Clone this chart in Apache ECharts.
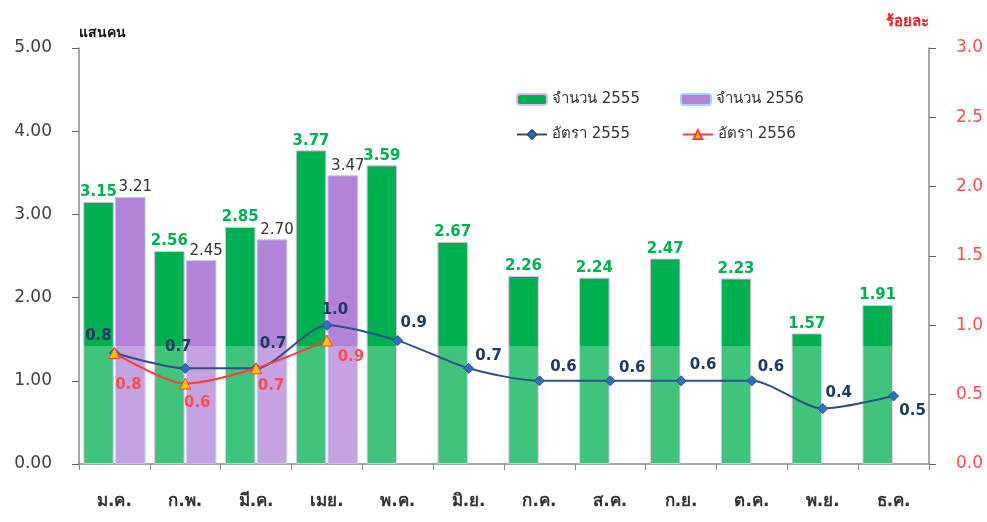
<!DOCTYPE html>
<html><head><meta charset="utf-8">
<script src="https://cdn.jsdelivr.net/npm/echarts@6/dist/echarts.min.js"></script>
<style>html,body{margin:0;padding:0;background:#fff}#c{width:987px;height:522px}</style>
</head><body><div id="c"></div>
<script>
const months = ['ม.ค.','ก.พ.','มี.ค.','เมย.','พ.ค.','มิ.ย.','ก.ค.','ส.ค.','ก.ย.','ต.ค.','พ.ย.','ธ.ค.'];
const count2555 = [3.15, 2.56, 2.85, 3.77, 3.59, 2.67, 2.26, 2.24, 2.47, 2.23, 1.57, 1.91];
const count2556 = [3.21, 2.45, 2.70, 3.47, null, null, null, null, null, null, null, null];
const rate2555 = [0.80, 0.69, 0.69, 1.00, 0.89, 0.69, 0.60, 0.60, 0.60, 0.60, 0.40, 0.49];
const rate2556 = [0.80, 0.58, 0.69, 0.89, null, null, null, null, null, null, null, null];
const leftTicks = [0, 1, 2, 3, 4, 5];
const rightTicks = [0, 0.5, 1, 1.5, 2, 2.5, 3];

const FONT = 'Tahoma, "DejaVu Sans", "Noto Sans", sans-serif';
const blueOffsets = [[-16,1],[-7,-3],[17,-6],[8,3],[16,1],[20,6],[24,4],[22,5],[22,2],[19,4],[16,3],[19,33]];
const redOffsets = [[14,14],[12,1],[15,-1],[24,-2]];

const chart = echarts.init(document.getElementById('c'));
chart.setOption({
  animation: false,
  textStyle: {fontFamily: FONT},
  grid: {left: 79, right: 58, top: 48, bottom: 58, containLabel: false},
  legend: [
    {left: 511, top: 87, itemWidth: 30, itemHeight: 11, itemGap: 40,
     textStyle: {fontSize: 15, color: '#333', fontFamily: FONT},
     data: ['จำนวน 2555', 'จำนวน 2556']},
    {left: 511, top: 122, itemWidth: 30, itemHeight: 11, itemGap: 52,
     textStyle: {fontSize: 15, color: '#333', fontFamily: FONT},
     data: ['อัตรา 2555', 'อัตรา 2556']}
  ],
  xAxis: {
    type: 'category', data: months,
    axisLine: {lineStyle: {color: '#8a8a8a', width: 1.5}},
    axisTick: {show: true, length: 6, lineStyle: {color: '#8a8a8a'}},
    axisLabel: {margin: 29, fontSize: 17, color: '#333', fontWeight: 'bold', fontFamily: FONT}
  },
  yAxis: [
    {type: 'value', min: leftTicks[0], max: leftTicks[leftTicks.length-1], interval: 1,
     name: 'แสนคน', nameLocation: 'end', nameGap: 8,
     nameTextStyle: {fontSize: 14, fontWeight: 'bold', color: '#111', align: 'left', fontFamily: FONT},
     axisLine: {show: true, lineStyle: {color: '#8a8a8a', width: 1.5}},
     axisTick: {show: true, length: 7, lineStyle: {color: '#666'}},
     splitLine: {show: false},
     axisLabel: {formatter: v => v.toFixed(2), fontSize: 17, color: '#404040', margin: 27, fontFamily: FONT}},
    {type: 'value', min: rightTicks[0], max: rightTicks[rightTicks.length-1], interval: 0.5,
     name: 'ร้อยละ', nameLocation: 'end', nameGap: 18,
     nameTextStyle: {fontSize: 15, fontWeight: 'bold', color: '#ff1a1a', align: 'right', padding: [0, 0, 0, 0], fontFamily: FONT},
     axisLine: {show: true, lineStyle: {color: '#8a8a8a', width: 1.5}},
     axisTick: {show: true, length: 7, lineStyle: {color: '#666'}},
     splitLine: {show: false},
     axisLabel: {formatter: v => v.toFixed(1), fontSize: 17, color: '#ff4d4d', margin: 27, fontFamily: FONT}}
  ],
  graphic: [{
    type: 'rect', z: 3, silent: true,
    shape: {x: 80, y: 346, width: 848, height: 117},
    style: {fill: 'rgba(255,255,255,0.25)'}
  }],
  series: [
    {name: 'จำนวน 2555', type: 'bar', data: count2555, barGap: '4%', barCategoryGap: '12%',
     itemStyle: {color: '#00b050', borderColor: '#e6b8f0', borderWidth: 1},
     label: {show: true, position: 'top', distance: 2, formatter: p => p.value.toFixed(2),
             color: '#00b050', fontWeight: 'bold', fontSize: 15, fontFamily: FONT}},
    {name: 'จำนวน 2556', type: 'bar', data: count2556,
     itemStyle: {color: '#b383d8', borderColor: '#a8d0f0', borderWidth: 1},
     label: {show: true, position: 'top', distance: 2, offset: [5, 0], formatter: p => p.value == null ? '' : p.value.toFixed(2),
             color: '#333', fontSize: 15, fontFamily: FONT}},
    {name: 'อัตรา 2555', type: 'line', yAxisIndex: 1, smooth: 0.25, z: 5,
     data: rate2555.map((v, i) => ({value: v, label: {offset: blueOffsets[i]}})),
     symbol: 'diamond', symbolSize: 10,
     lineStyle: {color: '#2f4f8a', width: 2},
     itemStyle: {color: '#2e6fc0', borderColor: '#2f4f8a', borderWidth: 1},
     label: {show: true, position: 'top', formatter: p => p.value.toFixed(1),
             color: '#1f3864', fontWeight: 'bold', fontSize: 15, fontFamily: FONT}},
    {name: 'อัตรา 2556', type: 'line', yAxisIndex: 1, smooth: 0.25, z: 6,
     data: rate2556.map((v, i) => ({value: v, label: {offset: redOffsets[i] || [0,0]}})),
     symbol: 'triangle', symbolSize: 11,
     lineStyle: {color: '#ff3b3b', width: 2},
     itemStyle: {color: '#ffc000', borderColor: '#ff4040', borderWidth: 1},
     label: {show: true, position: 'bottom', formatter: p => p.value == null ? '' : p.value.toFixed(1),
             color: '#ff4d4d', fontWeight: 'bold', fontSize: 15, fontFamily: FONT}}
  ]
});
</script></body></html>
